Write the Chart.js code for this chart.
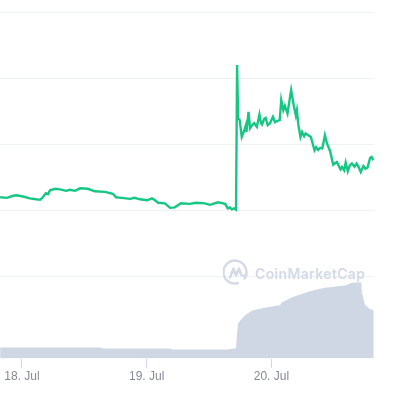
<!DOCTYPE html>
<html lang="en">
<head>
<meta charset="UTF-8" />
<title>CoinMarketCap price chart</title>
<script src="https://cdn.jsdelivr.net/npm/chart.js"></script>
<style>
  html, body { margin: 0; background: #fff; overflow: hidden; }
  #wrap { position: relative; width: 413px; height: 393px; }
  #logo { position: absolute; left: 223px; top: 259px; }
  #brand { position: absolute; left: 255px; top: 265px; font: 600 14px "Inter", sans-serif; letter-spacing: 0.35px; color: #d3d9e6; white-space: nowrap; }
</style>
</head>
<body>
<div id="wrap">
  <canvas id="chart" width="413" height="393"></canvas>
  <svg id="logo" width="26" height="26" viewBox="0 0 26 26" fill="none" stroke="#d3d9e6" stroke-width="2.4" stroke-linecap="round" stroke-linejoin="round">
    <path d="M21.5 19.5A11.5 11.5 0 1 0 15 24.2" />
    <path d="M7 18.5L10.5 9.5L13 16.5L16 9.5L18 15.5Q19.5 18 23.5 16" />
  </svg>
  <div id="brand">CoinMarketCap</div>
</div>
<script>
  // hours since 18 Jul 00:00
  const priceHours = [-4.2,-2.9,-1.7,-1.0,0.4,1.5,2.7,3.5,4.0,4.6,5.0,5.4,6.4,7.3,8.5,9.2,10.2,11.2,12.7,14.0,16.0,17.5,18.1,19.2,20.8,21.7,22.7,24.1,25.0,25.6,26.2,27.5,28.5,29.4,30.6,32.3,33.5,35.2,36.2,37.7,39.1,39.6,40.0,40.4,40.8,41.2,41.4,41.6,41.9,42.3,42.8,43.1,43.2,43.6,43.9,44.3,44.7,45.2,45.7,46.0,46.2,46.6,46.9,47.3,47.7,48.3,48.7,49.0,49.6,49.9,50.3,50.6,51.1,51.8,52.3,52.7,52.9,53.2,53.6,53.9,54.3,54.6,55.1,55.6,56.3,56.6,57.0,57.4,57.8,58.3,58.7,59.3,59.9,60.6,61.3,61.6,62.0,62.3,62.7,63.1,63.5,64.0,64.4,64.8,65.2,65.7,66.1,66.5,67.0,67.3,67.6];
  const priceValues = [1.197,1.189,1.220,1.227,1.205,1.182,1.167,1.159,1.197,1.258,1.245,1.303,1.326,1.318,1.295,1.311,1.295,1.333,1.326,1.288,1.280,1.250,1.197,1.189,1.174,1.189,1.167,1.152,1.182,1.152,1.114,1.106,1.038,1.045,1.106,1.098,1.114,1.106,1.083,1.121,1.098,1.030,1.045,1.015,1.030,1.008,3.197,2.394,2.364,2.111,2.212,2.288,2.186,2.489,2.242,2.288,2.318,2.262,2.450,2.318,2.298,2.380,2.398,2.288,2.314,2.414,2.333,2.348,2.364,2.667,2.515,2.580,2.465,2.818,2.591,2.439,2.515,2.288,2.111,2.186,2.121,2.162,2.136,2.111,1.909,1.955,1.915,1.945,1.935,2.136,2.011,1.894,1.692,1.732,1.621,1.656,1.606,1.723,1.591,1.680,1.708,1.660,1.708,1.650,1.580,1.671,1.630,1.647,1.792,1.808,1.758];
  const volumeHours = [-4.2,15.0,15.6,28.5,28.9,39.6,41.2,41.4,41.6,42.0,42.9,44.3,46.2,49.3,49.7,50.0,52.0,55.4,58.3,62.2,63.5,65.3,65.4,66.0,66.8,67.7];
  const volumeValues = [0.167,0.167,0.152,0.152,0.136,0.136,0.156,0.379,0.530,0.576,0.652,0.727,0.762,0.803,0.810,0.850,0.929,1.020,1.071,1.106,1.147,1.156,1.005,0.818,0.758,0.727];
  const tickHours = [0, 24, 48];
  const tickLabels = ["18. Jul", "19. Jul", "20. Jul"];
  const priceGrid = [0, 1, 2, 3, 4];

  new Chart(document.getElementById("chart").getContext("2d"), {
    type: "line",
    data: {
      datasets: [
        {
          label: "Price",
          data: priceHours.map((h, i) => ({ x: h, y: priceValues[i] })),
          borderColor: "#16c784",
          borderWidth: 2.4,
          pointRadius: 0,
          tension: 0,
          fill: false,
          yAxisID: "y",
          order: 1
        },
        {
          label: "Volume",
          data: volumeHours.map((h, i) => ({ x: h, y: volumeValues[i] })),
          borderWidth: 0,
          backgroundColor: "#cfd6e4",
          pointRadius: 0,
          tension: 0,
          fill: "origin",
          yAxisID: "yVol",
          order: 2
        }
      ]
    },
    options: {
      responsive: false,
      animation: false,
      layout: { padding: { top: 12, right: 39, left: 0, bottom: 7 } },
      plugins: { legend: { display: false }, tooltip: { enabled: false } },
      scales: {
        x: {
          type: "linear",
          min: -4.23,
          max: 67.75,
          border: { display: false },
          grid: { drawOnChartArea: false, color: "#ccd6eb", tickLength: 9 },
          afterBuildTicks: s => { s.ticks = tickHours.map(v => ({ value: v })); },
          ticks: {
            autoSkip: false,
            maxRotation: 0,
            padding: 2,
            color: "#858a96",
            font: { family: "'Liberation Sans', sans-serif", size: 12 },
            callback: v => tickLabels[tickHours.indexOf(v)]
          }
        },
        y: {
          min: -1.2424,
          max: 4,
          border: { display: false },
          grid: { color: "#eff2f5", drawTicks: false },
          afterBuildTicks: s => { s.ticks = priceGrid.map(v => ({ value: v })); },
          ticks: { display: false }
        },
        yVol: {
          min: 0,
          max: 5.242,
          display: false
        }
      }
    }
  });
</script>
</body>
</html>
